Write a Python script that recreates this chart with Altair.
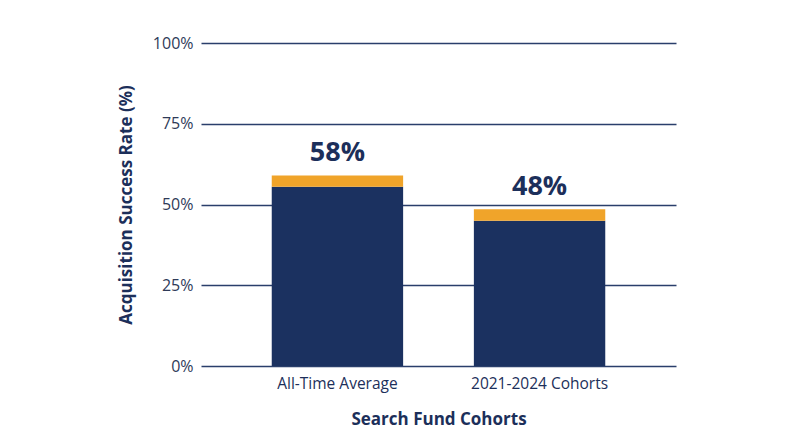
import altair as alt
import pandas as pd

categories = ["All-Time Average", "2021-2024 Cohorts"]
navy_values = [55.5, 45.0]
orange_values = [3.5, 3.5]
labels = ["58%", "48%"]
totals = [n + o for n, o in zip(navy_values, orange_values)]

NAVY = "#1b3160"
ORANGE = "#f0a42a"
TEXT = "#1c2f5a"
FONT = "Open Sans"

rows = []
for c, n, o in zip(categories, navy_values, orange_values):
    rows.append({"cat": c, "seg": "base", "val": n, "ord": 0})
    rows.append({"cat": c, "seg": "top", "val": o, "ord": 1})
df = pd.DataFrame(rows)
lab = pd.DataFrame({"cat": categories, "total": totals, "label": labels})

xenc = alt.X(
    "cat:N",
    sort=categories,
    scale=alt.Scale(paddingInner=0.35, paddingOuter=0.35),
    axis=alt.Axis(
        title="Search Fund Cohorts",
        labelAngle=0,
        domain=False,
        ticks=False,
        labelPadding=10,
        labelFontSize=15.5,
        labelColor=TEXT,
        labelFont=FONT,
        titleFont=FONT,
        titleFontSize=17,
        titleFontWeight="bold",
        titleColor=TEXT,
        titlePadding=20,
    ),
)

bars = alt.Chart(df).mark_bar().encode(
    x=xenc,
    y=alt.Y(
        "val:Q",
        stack="zero",
        scale=alt.Scale(domain=[0, 100]),
        axis=alt.Axis(
            title="Acquisition Success Rate (%)",
            values=[0, 25, 50, 75, 100],
            labelExpr="datum.value + '%'",
            domain=False,
            ticks=False,
            grid=True,
            gridColor="#2a3f6b",
            gridWidth=1.5,
            labelPadding=8,
            labelFontSize=16,
            labelColor="#2e3a58",
            labelFont=FONT,
            titleFont=FONT,
            titleFontSize=17,
            titleFontWeight="bold",
            titleColor=TEXT,
            titlePadding=17,
        ),
    ),
    color=alt.Color(
        "seg:N",
        scale=alt.Scale(domain=["base", "top"], range=[NAVY, ORANGE]),
        legend=None,
    ),
    order=alt.Order("ord:Q", sort="ascending"),
)

text = alt.Chart(lab).mark_text(
    baseline="bottom", dy=-8, fontSize=27, fontWeight="bold", color=TEXT, font=FONT
).encode(
    x=alt.X("cat:N", sort=categories),
    y=alt.Y("total:Q"),
    text="label:N",
)

chart = (
    alt.layer(bars, text)
    .properties(
        width=475,
        height=323,
        background="white",
        padding={"left": 109, "top": 27, "right": 5, "bottom": 5},
    )
    .configure_view(stroke=None)
)

chart.save("out.html", embed_options={"renderer": "svg", "actions": False})
